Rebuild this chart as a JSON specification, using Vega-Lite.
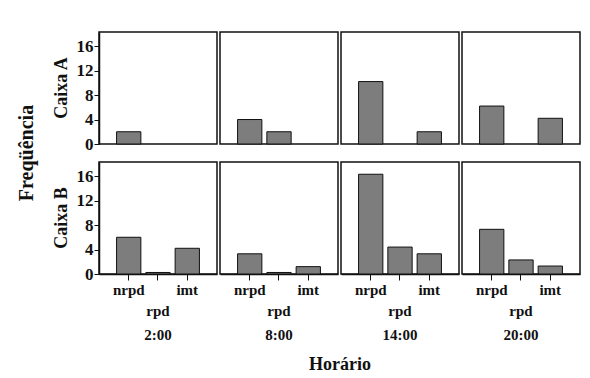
{
  "$schema": "https://vega.github.io/schema/vega-lite/v6.json",
  "padding": {"left": 16, "top": 31, "right": 5, "bottom": 2},
  "background": "#ffffff",
  "bounds": "flush",
  "data": {
    "values": [
      {"caixa": "Caixa A", "horario": "2:00", "tipo": "nrpd", "freq": 2},
      {"caixa": "Caixa A", "horario": "2:00", "tipo": "rpd", "freq": 0},
      {"caixa": "Caixa A", "horario": "2:00", "tipo": "imt", "freq": 0},
      {"caixa": "Caixa A", "horario": "8:00", "tipo": "nrpd", "freq": 4},
      {"caixa": "Caixa A", "horario": "8:00", "tipo": "rpd", "freq": 2},
      {"caixa": "Caixa A", "horario": "8:00", "tipo": "imt", "freq": 0},
      {"caixa": "Caixa A", "horario": "14:00", "tipo": "nrpd", "freq": 10.2},
      {"caixa": "Caixa A", "horario": "14:00", "tipo": "rpd", "freq": 0},
      {"caixa": "Caixa A", "horario": "14:00", "tipo": "imt", "freq": 2},
      {"caixa": "Caixa A", "horario": "20:00", "tipo": "nrpd", "freq": 6.2},
      {"caixa": "Caixa A", "horario": "20:00", "tipo": "rpd", "freq": 0},
      {"caixa": "Caixa A", "horario": "20:00", "tipo": "imt", "freq": 4.2},
      {"caixa": "Caixa B", "horario": "2:00", "tipo": "nrpd", "freq": 6},
      {"caixa": "Caixa B", "horario": "2:00", "tipo": "rpd", "freq": 0.25},
      {"caixa": "Caixa B", "horario": "2:00", "tipo": "imt", "freq": 4.2},
      {"caixa": "Caixa B", "horario": "8:00", "tipo": "nrpd", "freq": 3.3},
      {"caixa": "Caixa B", "horario": "8:00", "tipo": "rpd", "freq": 0.25},
      {"caixa": "Caixa B", "horario": "8:00", "tipo": "imt", "freq": 1.2},
      {"caixa": "Caixa B", "horario": "14:00", "tipo": "nrpd", "freq": 16.3},
      {"caixa": "Caixa B", "horario": "14:00", "tipo": "rpd", "freq": 4.4},
      {"caixa": "Caixa B", "horario": "14:00", "tipo": "imt", "freq": 3.3},
      {"caixa": "Caixa B", "horario": "20:00", "tipo": "nrpd", "freq": 7.3},
      {"caixa": "Caixa B", "horario": "20:00", "tipo": "rpd", "freq": 2.3},
      {"caixa": "Caixa B", "horario": "20:00", "tipo": "imt", "freq": 1.3}
    ]
  },
  "facet": {
    "row": {
      "field": "caixa",
      "type": "nominal",
      "title": "Freqüência",
      "header": {
        "labelOrient": "left",
        "titleOrient": "left",
        "labelAngle": -90,
        "titleAngle": -90,
        "labelFont": "Liberation Serif",
        "labelFontSize": 18,
        "labelFontWeight": "bold",
        "labelColor": "#111",
        "labelPadding": -4,
        "titleFont": "Liberation Serif",
        "titleFontSize": 20,
        "titleFontWeight": "bold",
        "titleColor": "#111",
        "titlePadding": -14
      }
    },
    "column": {
      "field": "horario",
      "type": "ordinal",
      "sort": ["2:00", "8:00", "14:00", "20:00"],
      "title": "Horário",
      "header": {
        "labelOrient": "bottom",
        "titleOrient": "bottom",
        "labelFont": "Liberation Serif",
        "labelFontSize": 15,
        "labelFontWeight": "bold",
        "labelColor": "#111",
        "labelPadding": 10,
        "titleFont": "Liberation Serif",
        "titleFontSize": 18,
        "titleFontWeight": "bold",
        "titleColor": "#111",
        "titlePadding": 3
      }
    }
  },
  "spacing": {"row": 18, "column": 3},
  "spec": {
    "width": 118,
    "height": 112,
    "mark": {"type": "bar", "fill": "#7d7d7d", "stroke": "#111111", "strokeWidth": 1},
    "encoding": {
      "x": {
        "field": "tipo",
        "type": "nominal",
        "sort": ["nrpd", "rpd", "imt"],
        "scale": {"paddingInner": 0.17, "paddingOuter": 0.6},
        "axis": {
          "title": null,
          "labelAngle": 0,
          "labelExpr": "datum.value == 'rpd' ? ['', 'rpd'] : datum.value",
          "labelLineHeight": 21,
          "labelFont": "Liberation Serif",
          "labelFontSize": 15,
          "labelFontWeight": "bold",
          "labelColor": "#111",
          "labelPadding": 2,
          "tickSize": 6,
          "tickColor": "#111",
          "domainColor": "#111",
          "domainWidth": 1.5
        }
      },
      "y": {
        "field": "freq",
        "type": "quantitative",
        "scale": {"domain": [0, 18.3], "nice": false},
        "axis": {
          "title": null,
          "values": [0, 4, 8, 12, 16],
          "grid": false,
          "labelFont": "Liberation Serif",
          "labelFontSize": 17,
          "labelFontWeight": "bold",
          "labelColor": "#111",
          "labelPadding": 1,
          "tickSize": 5,
          "tickColor": "#111",
          "domainColor": "#111",
          "domainWidth": 1.5
        }
      },
      "strokeOpacity": {
        "condition": {"test": "datum.freq > 0", "value": 1},
        "value": 0
      }
    }
  },
  "config": {
    "view": {"stroke": "#111111", "strokeWidth": 1.5},
    "font": "Liberation Serif"
  }
}
